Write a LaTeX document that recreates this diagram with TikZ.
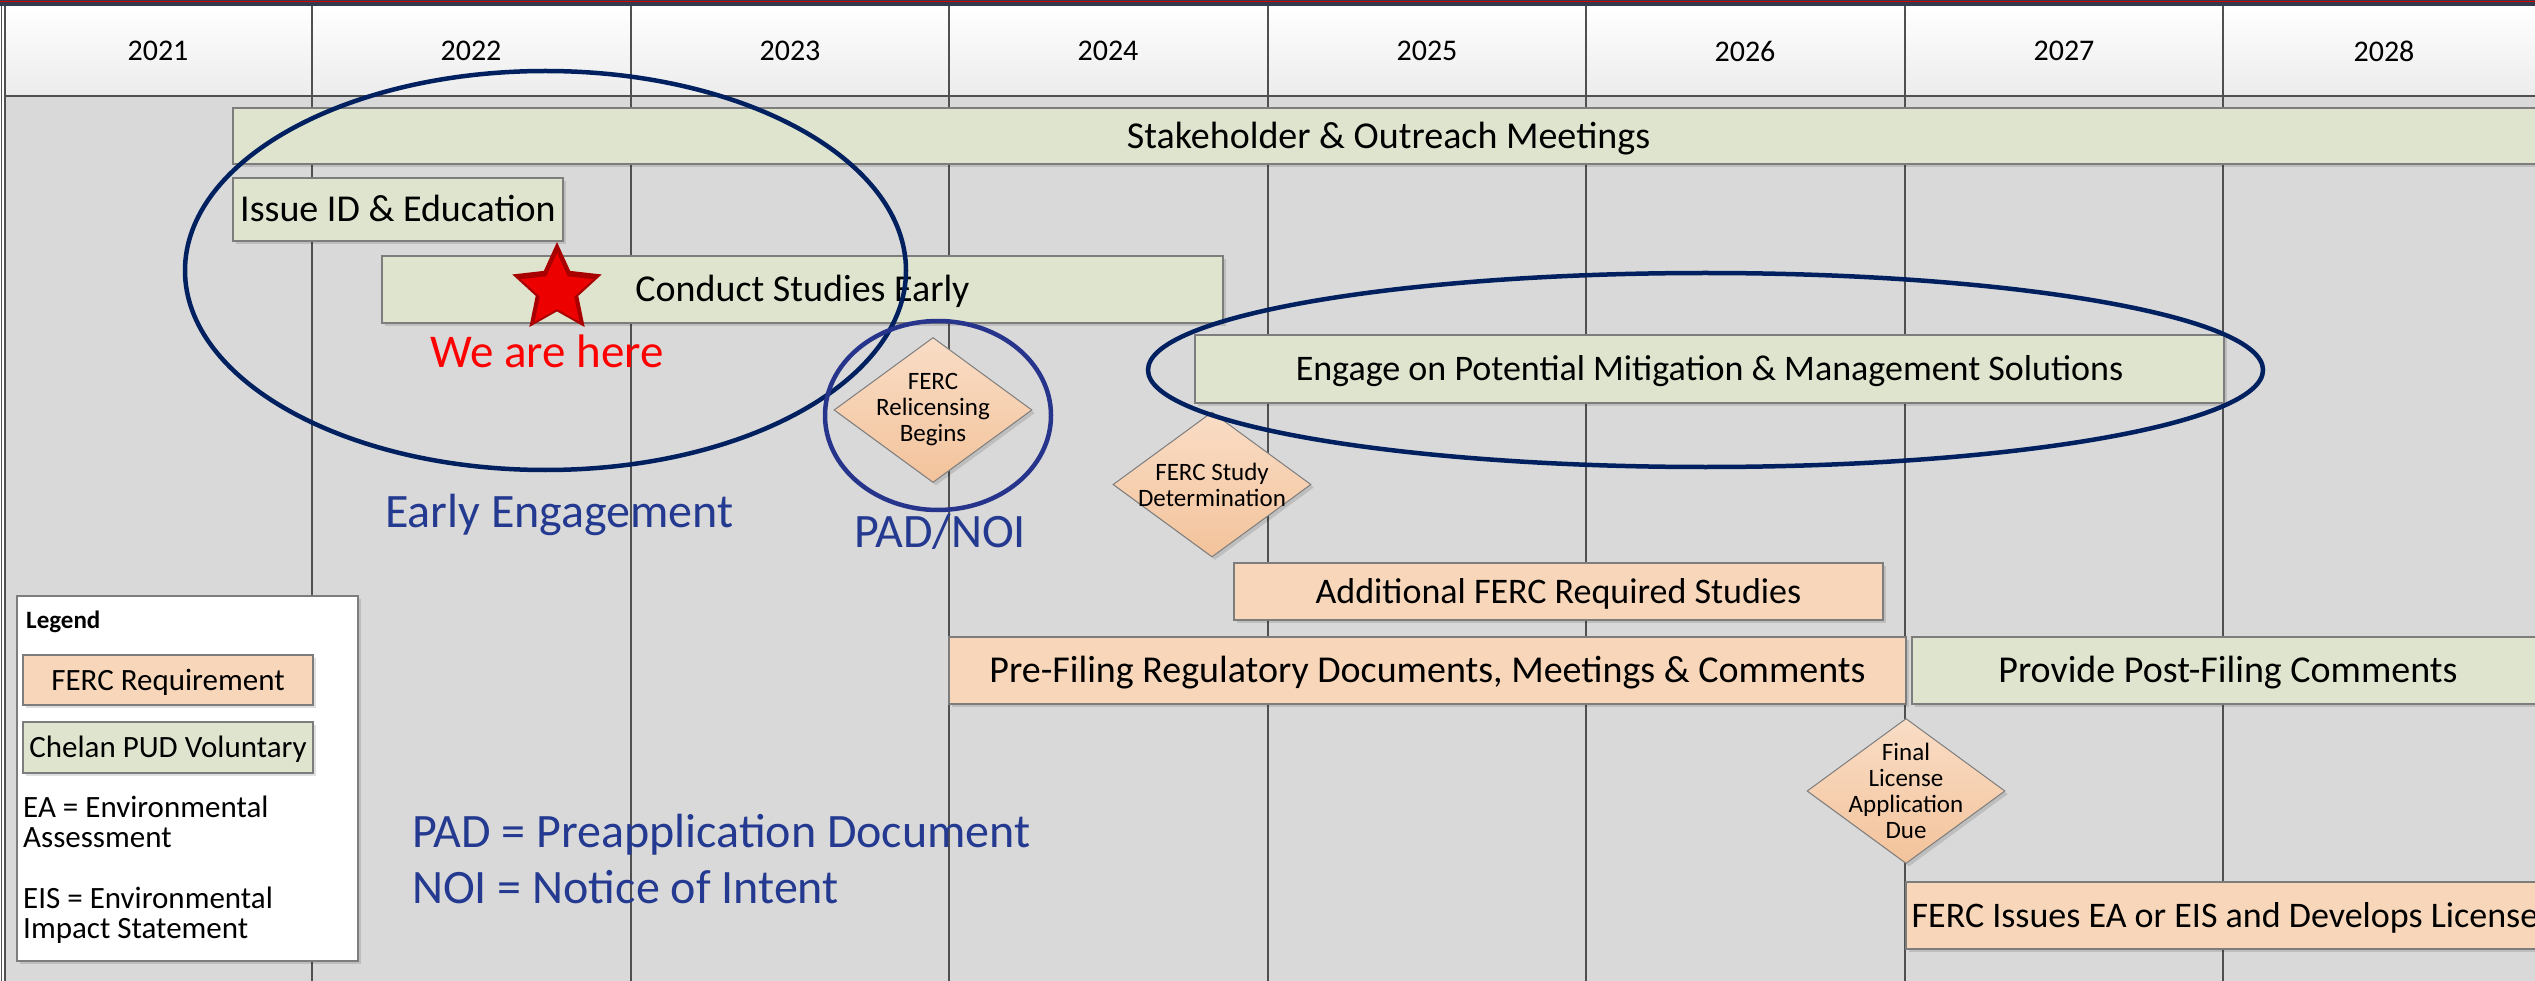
\documentclass[tikz,border=0pt]{standalone}
\usepackage{fontspec}
\setmainfont{Carlito}
\usetikzlibrary{shapes.geometric,shadows}

\definecolor{gridgray}{RGB}{217,217,217}
\definecolor{gridline}{RGB}{80,80,80}
\definecolor{boxline}{RGB}{125,125,125}
\definecolor{hdrbot}{RGB}{236,236,236}
\definecolor{hdrnavy}{RGB}{52,58,78}
\definecolor{volgreen}{RGB}{223,228,206}
\definecolor{fercpeach}{RGB}{248,214,186}
\definecolor{peachtop}{RGB}{249,221,198}
\definecolor{peachbot}{RGB}{243,195,155}
\definecolor{ringnavy}{RGB}{0,32,96}
\definecolor{ringblue}{RGB}{38,52,140}
\definecolor{notesblue}{RGB}{36,58,145}
\definecolor{starred}{RGB}{236,0,0}
\definecolor{stardark}{RGB}{168,0,0}

\tikzset{
	fnt/.style={font=\fontsize{#1}{#1}\selectfont},
	softshadow/.style={drop shadow={shadow xshift=3pt, shadow yshift=-3pt, fill=black, opacity=.12}},
	task/.style={rectangle, draw=boxline, line width=1.5pt, inner sep=0pt, fnt=36, text height=23pt, text depth=0pt, softshadow},
	bigtask/.style={fnt=38, text height=24.5pt},
	voltask/.style={task, fill=volgreen},
	ferctask/.style={task, fill=fercpeach},
	milestone/.style={diamond, draw=boxline, line width=1pt, inner sep=0pt, minimum width=198pt, minimum height=145pt, top color=peachtop, bottom color=peachbot, softshadow},
	mstext/.style={align=center, inner sep=0pt, font=\fontsize{25}{26}\selectfont},
	ring/.style={ellipse, draw=ringnavy, line width=4.5pt, inner sep=0pt},
	yearlbl/.style={fnt=30, inner sep=0pt},
	note/.style={text=notesblue, fnt=48, inner sep=0pt},
	keytext/.style={fnt=31, inner sep=0pt, anchor=base west},
}

\begin{document}
\begin{tikzpicture}[x=1pt, y=-1pt]
	\useasboundingbox (0,0) rectangle (2535,981);
	% table
	\fill[gridgray] (5,96) rectangle (2544,981);
	\fill[top color=white, bottom color=hdrbot] (5,6) rectangle (2544,96);
	\fill[hdrnavy] (0,0) rectangle (2535,6);
	\draw[red!85!black, line width=1pt] (0,1.6) -- (2535,1.6);
	\draw[gridline, line width=2.5pt] (5,96) -- (2544,96);
	\draw[gridline, line width=1.2pt] (1.5,6) -- (1.5,981) (5,6) -- (5,981);
	\foreach \i in {0,...,6}
		\draw[gridline, line width=2pt] ({312+318.5*\i},6) -- ({312+318.5*\i},981);
	\foreach \yr/\xc in {2021/158, 2022/471, 2023/790, 2024/1108, 2025/1427, 2026/1745, 2027/2064, 2028/2384}
		\node[yearlbl] (y\yr) at (\xc,51) {\yr};

	% bars
	\node[voltask, bigtask, minimum width=2311pt, minimum height=56pt] (stake) at (1388.5,136) {Stakeholder \& Outreach Meetings};
	\node[voltask, bigtask, minimum width=330pt, minimum height=63pt] (issue) at (398,209.5) {Issue ID \& Education};
	\node[voltask, bigtask, minimum width=841pt, minimum height=67pt] (conduct) at (802.5,289.5) {Conduct Studies Early};
	\node[voltask, minimum width=1029pt, minimum height=68pt] (engage) at (1709.5,369) {Engage on Potential Mitigation \& Management Solutions};
	\node[ferctask, minimum width=649pt, minimum height=57pt] (addl) at (1558.5,591.5) {Additional FERC Required Studies};
	\node[ferctask, bigtask, minimum width=957pt, minimum height=67pt] (prefile) at (1427.5,670.5) {Pre-Filing Regulatory Documents, Meetings \& Comments};
	\node[voltask, bigtask, minimum width=632pt, minimum height=67pt] (postfile) at (2228,670.5) {Provide Post-Filing Comments};
	\node[ferctask, minimum width=638pt, minimum height=67pt] (eaeis) at (2225,915.5) {FERC Issues EA or EIS and Develops License};

	% milestones
	\node[milestone] (relic) at (933,410) {};
	\node[mstext] (relic-t) at (relic) {FERC\\Relicensing\\Begins};
	\node[milestone] (study) at (1212,484.5) {};
	\node[mstext] (study-t) at (study) {FERC Study\\Determination};
	\node[milestone] (fla) at (1906,791) {};
	\node[mstext] (fla-t) at (fla) {Final\\License\\Application\\Due};

	% legend
	\node[draw=boxline, line width=1.5pt, fill=white, minimum width=341pt, minimum height=365pt, inner sep=0pt, softshadow] (legend) at (187.5,778.5) {};
	\node[font=\fontsize{25}{25}\selectfont\bfseries, inner sep=0pt, anchor=base west] (legend-t) at (26,628) {Legend};
	\node[ferctask, fnt=31, text height=20pt, minimum width=290pt, minimum height=50pt] (keyferc) at (168,680) {FERC Requirement};
	\node[voltask, fnt=31, text height=20pt, minimum width=290pt, minimum height=51pt] (keyvol) at (168,747.5) {Chelan PUD Voluntary};
	\node[keytext] (keyea) at (23,817) {EA = Environmental};
	\node[keytext] (keyea2) at (23,847) {Assessment};
	\node[keytext] (keyeis) at (23,908) {EIS = Environmental};
	\node[keytext] (keyeis2) at (23,938) {Impact Statement};

	% highlights
	\node[ring, minimum width=721pt, minimum height=399pt] (earlyring) at (545.5,270.5) {};
	\node[ring, draw=ringblue, minimum width=226pt, minimum height=189pt] (padring) at (938,415.5) {};
	\node[ring, minimum width=1115pt, minimum height=194pt] (engagering) at (1705.5,370) {};
	\node[star, star points=5, star point ratio=2.1, minimum size=94pt, inner sep=0pt, fill=stardark] (here) at (557,289) {};
	\node[star, star points=5, star point ratio=2.1, minimum size=76pt, inner sep=0pt, fill=starred] (here-in) at (557,291) {};
	\node[text=red, fnt=47, inner sep=0pt, anchor=base] (here-t) at (547,368) {We are here};
	\node[note, anchor=base west] (early-t) at (385,527) {Early Engagement};
	\node[note, anchor=base] (padnoi-t) at (940,547) {PAD/NOI};
	\node[note, anchor=base west] (paddef) at (412,847) {PAD = Preapplication Document};
	\node[note, anchor=base west] (noidef) at (412,903) {NOI = Notice of Intent};
\end{tikzpicture}
\end{document}
